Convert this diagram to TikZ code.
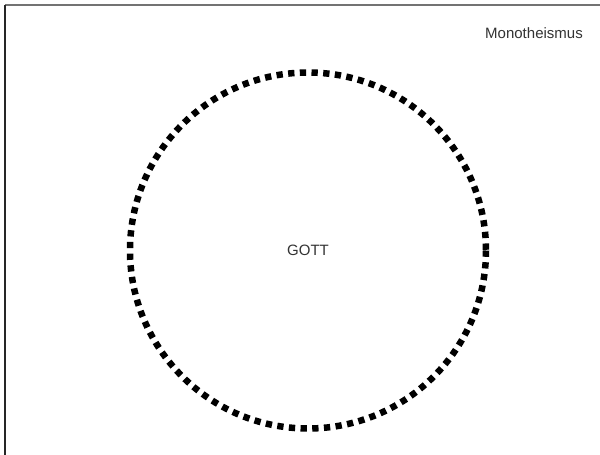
\documentclass[tikz,border=0pt]{standalone}
\usepackage{fontspec}
\setmainfont{Liberation Sans}
\begin{document}
\begin{tikzpicture}[x=1pt,y=-1pt,
  lbl/.style={font=\fontsize{15}{18}\selectfont, text=black!80},
  dotring/.style={line width=6.5pt, dash pattern=on 6.3pt off 5.4pt}]
\useasboundingbox (0,0) rectangle (600,455);
\fill[white] (0,0) rectangle (600,455);
\draw[black!55, line width=2.2pt] (5,5) -- (600,5);
\draw[black!85, line width=1.5pt] (5,5) -- (5,455);
\coordinate (c) at (308,250.5);
\draw[dotring] (c) circle[radius=178];
\node[lbl] (gott) at (c) {GOTT};
\node[lbl] (mono) at (534,33) {Monotheismus};
\end{tikzpicture}
\end{document}
